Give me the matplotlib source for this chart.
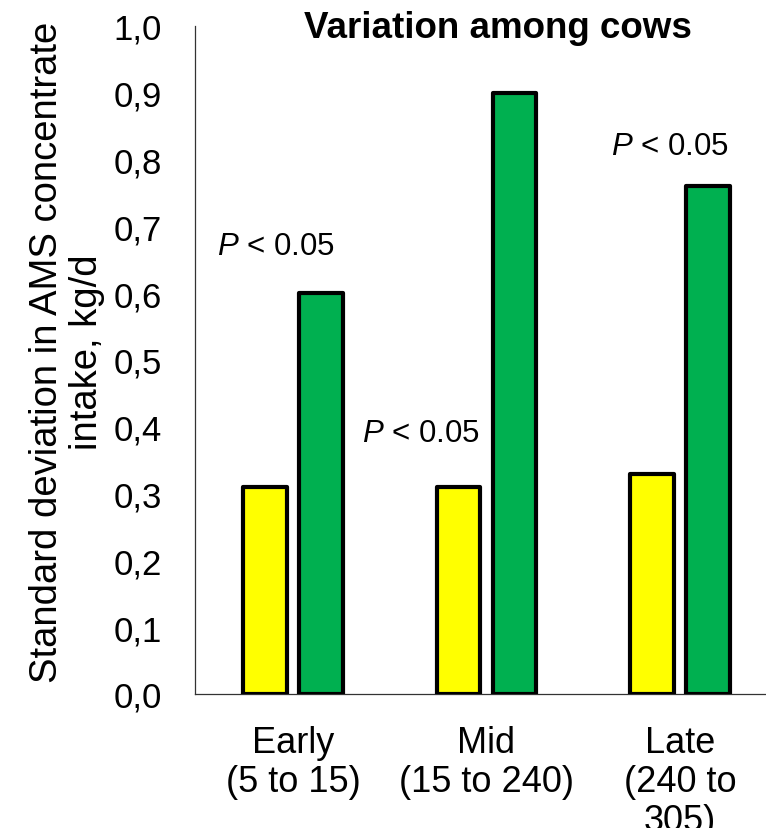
import matplotlib
matplotlib.use("Agg")
import matplotlib.pyplot as plt
import numpy as np

categories = ["Early\n(5 to 15)", "Mid\n(15 to 240)", "Late\n(240 to\n305)"]
series_a = [0.31, 0.31, 0.33]
series_b = [0.60, 0.90, 0.76]
yticks = [0.0, 0.1, 0.2, 0.3, 0.4, 0.5, 0.6, 0.7, 0.8, 0.9, 1.0]
ytick_labels = ["0,0", "0,1", "0,2", "0,3", "0,4", "0,5", "0,6", "0,7", "0,8", "0,9", "1,0"]
annot_text = ["$P$ < 0.05", "$P$ < 0.05", "$P$ < 0.05"]
annot_x = [-0.09, 0.66, 1.95]
annot_y = [0.67, 0.39, 0.82]

plt.rcParams['font.family'] = ['Liberation Sans', 'DejaVu Sans']
plt.rcParams['mathtext.fontset'] = 'custom'
plt.rcParams['mathtext.it'] = 'Liberation Sans:italic'
plt.rcParams['mathtext.rm'] = 'Liberation Sans'

fig = plt.figure(figsize=(7.66, 8.29), dpi=100)
ax = fig.add_axes([195/766, 1-695/829, (801-195)/766, (695-27)/829])

x = np.arange(len(categories))
w = 0.225
off = 0.145
ax.bar(x - off, series_a, width=w, color="#FFFF00", edgecolor="black", linewidth=3, joinstyle="round", zorder=3)
ax.bar(x + off, series_b, width=w, color="#00B050", edgecolor="black", linewidth=3, joinstyle="round", zorder=3)

ax.set_xlim(-0.506, 2.625)
ax.set_ylim(0, 1.0)
ax.set_yticks(yticks)
ax.set_yticklabels(ytick_labels, fontsize=25)
ax.set_xticks(x)
ax.set_xticklabels(categories, fontsize=26, linespacing=1.15)
ax.tick_params(axis='x', length=0, pad=22)
ax.tick_params(axis='y', length=0, pad=24)
for s in ['top', 'right']:
    ax.spines[s].set_visible(False)
for s in ['left', 'bottom']:
    ax.spines[s].set_linewidth(0.9)
    ax.spines[s].set_color('#333333')

for t, xx, yy in zip(annot_text, annot_x, annot_y):
    ax.text(xx, yy, t, fontsize=22.5, ha='center', va='center')

fig.text(498/766, 1-28/829, "Variation among cows", fontsize=26.5, fontweight='bold', ha='center', va='center')
fig.text(67/766, 1-352/829, "Standard deviation in AMS concentrate\nintake, kg/d", fontsize=27.5,
         rotation=90, ha='center', va='center', linespacing=1.12)

fig.savefig("out.png", dpi=100)
